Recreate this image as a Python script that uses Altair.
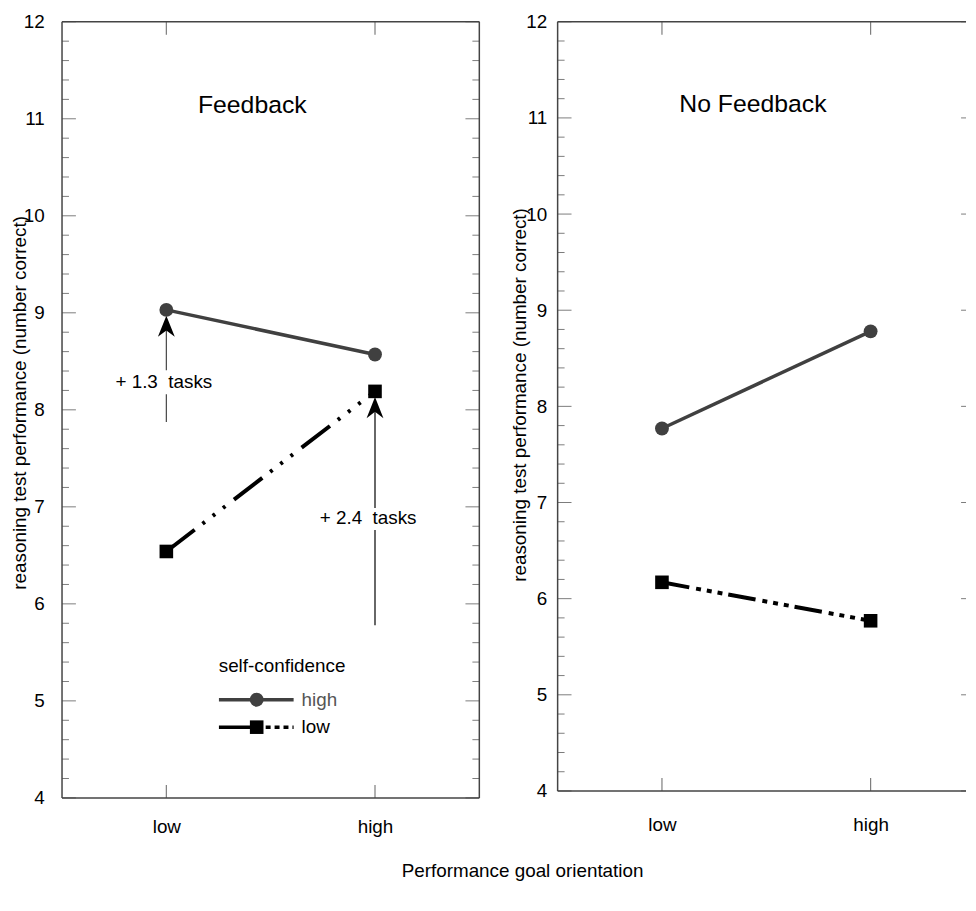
import altair as alt
import pandas as pd

# ---------------- data ----------------
GOAL_LEVELS = ["low", "high"]
GOAL_X = [1, 2]
FB_HIGH = [9.03, 8.57]      # Feedback, high self-confidence
FB_LOW = [6.54, 8.19]       # Feedback, low self-confidence
NOFB_HIGH = [7.77, 8.78]    # No feedback, high self-confidence
NOFB_LOW = [6.17, 5.77]     # No feedback, low self-confidence

Y_MAJOR = [4, 5, 6, 7, 8, 9, 10, 11, 12]
Y_MINOR = [round(4 + 0.2 * i, 1) for i in range(41) if i % 5 != 0]

Y_TITLE = "reasoning test performance (number correct)"
X_TITLE = "Performance goal orientation"
PANEL_TITLES = ["Feedback", "No Feedback"]
LEGEND_TITLE = "self-confidence"
LEGEND_LABELS = ["high", "low"]

# annotation (Feedback panel)
ARROW_X = [1, 2]
ARROW_LABELS = ["+ 1.3\u00a0 tasks", "+ 2.4\u00a0 tasks"]
ARROW_FROM = [7.875, 5.78]
ARROW_GAP_LO = [8.16, 6.761]
ARROW_GAP_HI = [8.407, 6.989]
ARROW_HEAD = [8.861, 8.0225]
ARROW_COLORS = ["#444444", "#000000"]
LABEL_X = [0.988, 1.967]
LABEL_Y = [8.284, 6.887]

# ---------------- style ----------------
FONT = "Liberation Sans"
FRAME = "#444444"
HIGH_COLOR = "#404040"
LOW_COLOR = "#000000"
ARROW_PATH = "M0,-1.25 L1,1.25 L0,0.5 L-1,1.25 Z"
FULL_W = 421          # nominal frame width of a panel
PX_PER_X = FULL_W / 2.0


def panel(high, low, title_txt, title_xy, width, height, top_px, dash, ylab_pad,
          xlab_pad, ytitle_x, ytitle_y, extras):
    ppu = (height - top_px) / 8.0
    yscale = alt.Scale(domain=[4, 4 + height / ppu], nice=False, zero=False)
    xscale = alt.Scale(domain=[0.5, 0.5 + width / PX_PER_X], nice=False, zero=False)
    label_expr = f"datum.value == 1 ? '{GOAL_LEVELS[0]}' : '{GOAL_LEVELS[1]}'"

    xaxis = alt.Axis(values=GOAL_X, labelExpr=label_expr, ticks=False, domain=False,
                     grid=False, labelPadding=xlab_pad, labelFontSize=19,
                     labelFont=FONT, labelColor="#000", title="")
    yaxis = alt.Axis(values=Y_MAJOR, format="d", ticks=False, domain=False, grid=False,
                     labelPadding=ylab_pad, labelFontSize=19, labelFont=FONT,
                     labelColor="#000", labelFlush=False,
                     title=Y_TITLE, titleFontSize=19, titleFont=FONT,
                     titleFontWeight="normal", titleColor="#000",
                     titleX=ytitle_x, titleY=ytitle_y)

    def X(field="x", axis=alt.Undefined):
        return alt.X(f"{field}:Q", scale=xscale, axis=axis)

    def Y(field="y", axis=alt.Undefined):
        return alt.Y(f"{field}:Q", scale=yscale, axis=axis)

    layers = []
    dfh = pd.DataFrame({"x": GOAL_X, "y": high})
    dfl = pd.DataFrame({"x": GOAL_X, "y": low})
    # series (first layer carries the axes)
    layers.append(alt.Chart(dfh).mark_line(color=HIGH_COLOR, strokeWidth=3.5).encode(
        x=X(axis=xaxis), y=Y(axis=yaxis)))
    # frame
    hz = pd.DataFrame({"y": [4, 12]})
    layers.append(alt.Chart(hz).mark_rule(color=FRAME, strokeWidth=1.5).encode(
        y=Y("y"), x=alt.value(0), x2=alt.value(min(width, FULL_W))))
    vt = pd.DataFrame({"y": [4], "y2": [12]})
    sides = [0] + ([FULL_W] if width >= FULL_W else [])
    for px in sides:
        layers.append(alt.Chart(vt).mark_rule(color=FRAME, strokeWidth=1.5).encode(
            y=Y("y"), y2="y2:Q", x=alt.value(px)))
    # inner ticks (only the parts that fall inside the panel)
    maj = pd.DataFrame({"v": Y_MAJOR})
    mnr = pd.DataFrame({"v": Y_MINOR})
    for x0, x1, df in [(0, 14, maj), (FULL_W - 14, FULL_W, maj), (0, 7, mnr),
                       (FULL_W - 7, FULL_W, mnr)]:
        x1 = min(x1, width)
        if x1 - x0 < 2:
            continue
        layers.append(alt.Chart(df).mark_tick(size=x1 - x0, thickness=1,
                                              color=FRAME).encode(
            y=Y("v"), x=alt.value((x0 + x1) / 2)))
    gx = pd.DataFrame({"v": GOAL_X})
    for ypos in [top_px + 6.5, height - 6.5]:
        layers.append(alt.Chart(gx).mark_tick(size=13, thickness=1.2, color=FRAME).encode(
            x=X("v"), y=alt.value(ypos)))
    layers.extend(extras(X, Y))
    layers.append(alt.Chart(dfl).mark_line(color=LOW_COLOR, strokeWidth=4,
                                           strokeDash=dash).encode(x=X(), y=Y()))
    layers.append(alt.Chart(dfh).mark_point(shape="circle", filled=True, size=196,
                                            color=HIGH_COLOR, opacity=1).encode(x=X(), y=Y()))
    layers.append(alt.Chart(dfl).mark_point(shape="square", filled=True, size=188,
                                            color=LOW_COLOR, opacity=1).encode(x=X(), y=Y()))
    # panel title
    tdf = pd.DataFrame({"x": [title_xy[0]], "y": [title_xy[1]], "t": [title_txt]})
    layers.append(alt.Chart(tdf).mark_text(font=FONT, fontSize=25, color="#000",
                                           align="center", baseline="middle").encode(
        x=X(), y=Y(), text="t:N"))
    return alt.layer(*layers).properties(width=width, height=height)


def fb_extras(X, Y):
    out = []
    for i in range(2):
        seg = pd.DataFrame({"x": [ARROW_X[i]] * 2,
                            "y": [ARROW_FROM[i], ARROW_GAP_HI[i]],
                            "y2": [ARROW_GAP_LO[i], ARROW_HEAD[i]]})
        out.append(alt.Chart(seg).mark_rule(color=ARROW_COLORS[i], strokeWidth=1.2).encode(
            x=X(), y=Y(), y2="y2:Q"))
        head = pd.DataFrame({"x": [ARROW_X[i]], "y": [ARROW_HEAD[i]]})
        out.append(alt.Chart(head).mark_point(shape=ARROW_PATH, filled=True, size=289,
                                              color="#000", opacity=1).encode(
            x=X(), y=Y()))
    lab = pd.DataFrame({"x": LABEL_X, "y": LABEL_Y, "t": ARROW_LABELS})
    out.append(alt.Chart(lab).mark_text(font=FONT, fontSize=19, color="#000",
                                        align="center", baseline="middle").encode(
        x=X(), y=Y(), text="t:N"))
    # legend
    lt = pd.DataFrame({"x": [1.251], "y": [5.363], "t": [LEGEND_TITLE]})
    out.append(alt.Chart(lt).mark_text(font=FONT, fontSize=19, color="#000",
                                       align="left", baseline="middle").encode(
        x=X(), y=Y(), text="t:N"))
    lh = pd.DataFrame({"x": [1.252, 1.61], "y": [5.012, 5.012]})
    out.append(alt.Chart(lh).mark_line(color=HIGH_COLOR, strokeWidth=3.5).encode(x=X(), y=Y()))
    out.append(alt.Chart(pd.DataFrame({"x": [1.433], "y": [5.012]})).mark_point(
        shape="circle", filled=True, size=196, color=HIGH_COLOR, opacity=1).encode(x=X(), y=Y()))
    ll1 = pd.DataFrame({"x": [1.252, 1.433], "y": [4.729, 4.729]})
    out.append(alt.Chart(ll1).mark_line(color=LOW_COLOR, strokeWidth=3.5).encode(x=X(), y=Y()))
    ll2 = pd.DataFrame({"x": [1.476, 1.61], "y": [4.729, 4.729]})
    out.append(alt.Chart(ll2).mark_line(color=LOW_COLOR, strokeWidth=3.5,
                                        strokeDash=[5, 4]).encode(x=X(), y=Y()))
    out.append(alt.Chart(pd.DataFrame({"x": [1.433], "y": [4.729]})).mark_point(
        shape="square", filled=True, size=188, color=LOW_COLOR, opacity=1).encode(x=X(), y=Y()))
    lbl_hi = pd.DataFrame({"x": [1.648], "y": [5.012], "t": [LEGEND_LABELS[0]]})
    out.append(alt.Chart(lbl_hi).mark_text(font=FONT, fontSize=19, align="left",
                                           baseline="middle", color="#555555").encode(
        x=X(), y=Y(), text="t:N"))
    lbl_lo = pd.DataFrame({"x": [1.648], "y": [4.729], "t": [LEGEND_LABELS[1]]})
    out.append(alt.Chart(lbl_lo).mark_text(font=FONT, fontSize=19, align="left",
                                           baseline="middle", color="#000").encode(
        x=X(), y=Y(), text="t:N"))
    return out


left = panel(FB_HIGH, FB_LOW, PANEL_TITLES[0], (1.412, 11.137), FULL_W, 783, 0,
             [36, 10, 3, 10, 3, 10, 3, 11], 18, 20, -32.5, 384, fb_extras)
right = panel(NOFB_HIGH, NOFB_LOW, PANEL_TITLES[1], (1.436, 11.139), 412, 776, 0,
              [28, 7, 5, 6, 5, 6, 5, 6], 11, 25, -28.5, 376, lambda X, Y: [])

chart = alt.hconcat(left, right, spacing=79, bounds="flush").properties(
    title=alt.TitleParams(X_TITLE, orient="bottom", anchor="middle",
                          fontSize=19, fontWeight="normal", font=FONT, color="#000",
                          offset=25, dx=34),
    padding={"left": 2.5, "top": 0, "right": 0, "bottom": 0},
).configure_view(stroke="transparent")

chart.save("out.html", embed_options={"renderer": "svg", "actions": False})
